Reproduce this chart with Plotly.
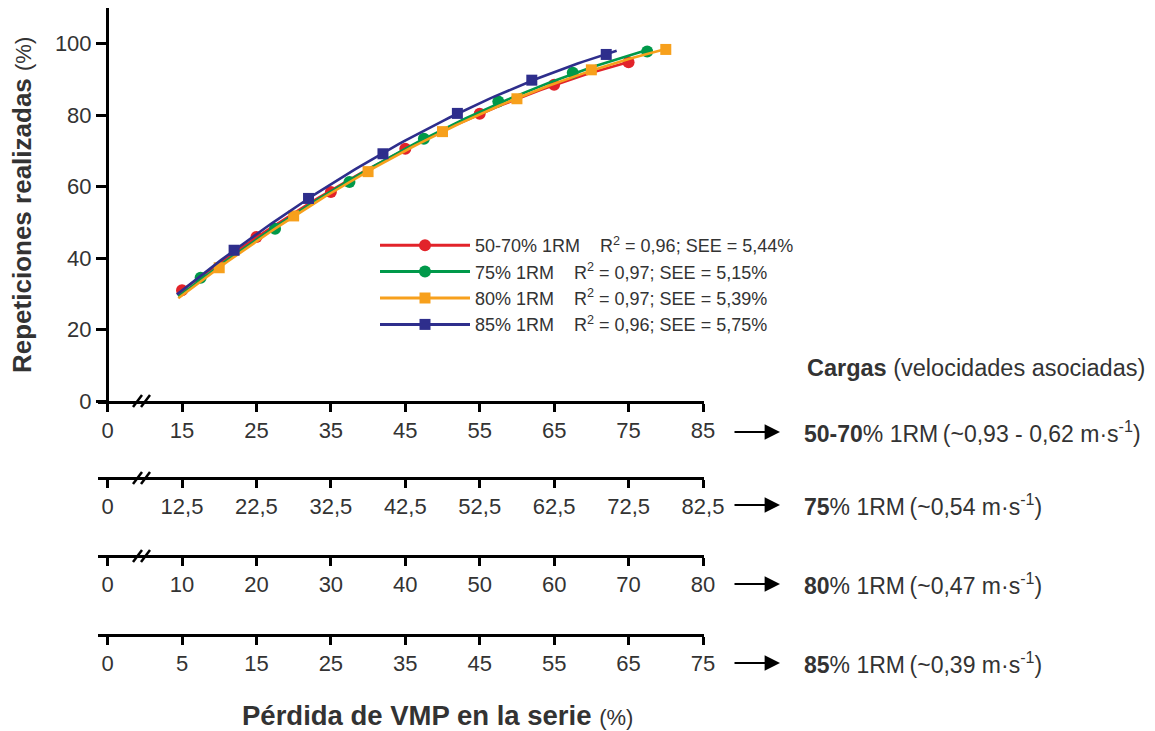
import numpy as np
import plotly.graph_objects as go

# ---------------- data ----------------
# Each series is expressed in the units of its own x axis
series_names = ["50-70% 1RM", "75% 1RM", "80% 1RM", "85% 1RM"]
legend_stats = ["R<sup>2</sup> = 0,96; SEE = 5,44%",
                "R<sup>2</sup> = 0,97; SEE = 5,15%",
                "R<sup>2</sup> = 0,97; SEE = 5,39%",
                "R<sup>2</sup> = 0,96; SEE = 5,75%"]

x_5070 = [15, 25, 35, 45, 55, 65, 75]
y_5070 = [31.0, 45.9, 58.5, 70.6, 80.4, 88.5, 94.8]

x_75 = [15, 25, 35, 45, 55, 65, 75]
y_75 = [34.5, 48.2, 61.3, 73.4, 83.8, 91.9, 97.8]

x_80 = [15, 25, 35, 45, 55, 65, 75]
y_80 = [37.3, 51.8, 64.2, 75.4, 84.6, 92.7, 98.4]

x_85 = [12, 22, 32, 42, 52, 62]
y_85 = [42.2, 56.7, 69.2, 80.5, 89.8, 97.0]

# x extent of each fitted (quadratic) curve, in its axis units
fit_span_5070 = [14.5, 75.5]
fit_span_75 = [12.0, 75.5]
fit_span_80 = [9.5, 75.0]
fit_span_85 = [4.3, 63.4]

# tick labels of the four stacked x axes
ticks_5070 = ["0", "15", "25", "35", "45", "55", "65", "75", "85"]
ticks_75 = ["0", "12,5", "22,5", "32,5", "42,5", "52,5", "62,5", "72,5", "82,5"]
ticks_80 = ["0", "10", "20", "30", "40", "50", "60", "70", "80"]
ticks_85 = ["0", "5", "15", "25", "35", "45", "55", "65", "75"]
yticks = [0, 20, 40, 60, 80, 100]

load_labels = ["<b>50-70</b>% 1RM\u2009(~0,93 - 0,62 m·s<sup>-1</sup>)",
               "<b>75</b>% 1RM\u2009(~0,54 m·s<sup>-1</sup>)",
               "<b>80</b>% 1RM\u2009(~0,47 m·s<sup>-1</sup>)",
               "<b>85</b>% 1RM\u2009(~0,39 m·s<sup>-1</sup>)"]

colors = ["#E2232A", "#00994A", "#F7A01C", "#2E2E8C"]
symbols = ["circle", "circle", "square", "square"]

# ---------------- geometry (page body has an 8 px margin) ----------------
W, H = 1147, 723
ML, MR, MT, MB = 90, 451, 0, 96
PW = W - ML - MR
PH = H - MT - MB
FONT = "Liberation Sans, Arial, sans-serif"
TXT = "#333333"


def px(xp):  # reference page pixel -> paper
    return (xp - 98) / PW


def py(yp):
    return (635 - yp) / PH


k = (703 - 182) / 70.0              # pixels per axis unit
lo_main = 15 - (182 - 98) / k
hi_main = 15 + (98 + PW - 182) / k
offsets = [0.0, 2.5, 5.0, 10.0]     # unit offset of each axis vs main axis
axis_rows_px = [401, 478, 556, 635]  # axis line rows (reference pixels)

fig = go.Figure()

xs = [x_5070, x_75, x_80, x_85]
ys = [y_5070, y_75, y_80, y_85]
spans = [fit_span_5070, fit_span_75, fit_span_80, fit_span_85]
xrefs = ["x", "x2", "x3", "x4"]

# markers first
for i in range(4):
    fig.add_trace(go.Scatter(x=xs[i], y=ys[i], mode="markers", xaxis=xrefs[i], yaxis="y",
                             marker=dict(color=colors[i], symbol=symbols[i],
                                         size=12 if symbols[i] == "circle" else 11, line=dict(width=0)),
                             showlegend=False, hoverinfo="skip"))
# fitted quadratic curves on top
for i in range(4):
    c = np.polyfit(xs[i], ys[i], 2)
    xf = np.linspace(spans[i][0], spans[i][1], 80)
    fig.add_trace(go.Scatter(x=xf, y=np.polyval(c, xf), mode="lines", xaxis=xrefs[i], yaxis="y",
                             line=dict(color=colors[i], width=2.6), showlegend=False, hoverinfo="skip"))
# legend entries
for i in range(4):
    fig.add_trace(go.Scatter(x=[None], y=[None], mode="lines+markers", xaxis="x", yaxis="y",
                             name=series_names[i] + "\u00a0\u00a0\u00a0\u00a0" + legend_stats[i],
                             line=dict(color=colors[i], width=3),
                             marker=dict(color=colors[i], symbol=symbols[i],
                                         size=12 if symbols[i] == "circle" else 11)))

tick_lists = [ticks_5070, ticks_75, ticks_80, ticks_85]
axis_common = dict(showline=True, linecolor="black", linewidth=3, ticks="outside", ticklen=8,
                   tickwidth=3, tickcolor="black", showgrid=False, zeroline=False,
                   tickfont=dict(family=FONT, size=22, color=TXT), automargin=False)

ydom0 = py(401)
for i in range(4):
    off = offsets[i]
    vals = [5 - off] + [15 - off + 10 * j for j in range(8)]
    ax = dict(axis_common, range=[lo_main - off, hi_main - off], tickmode="array",
              tickvals=vals, ticktext=tick_lists[i], domain=[0, 1])
    if i == 0:
        ax.update(anchor="y")
        fig.update_layout(xaxis=ax)
    else:
        ax.update(anchor="free", overlaying="x", position=py(axis_rows_px[i]), side="bottom")
        fig.update_layout(**{"xaxis%d" % (i + 1): ax})

fig.update_layout(yaxis=dict(axis_common, range=[0, 110], tickmode="array", tickvals=yticks,
                             ticklen=10, domain=[ydom0, 1], anchor="free", position=px(107)))

# axis break marks
shapes = []
for r in axis_rows_px[:3]:
    for xo in [133, 141]:
        shapes.append(dict(type="line", xref="paper", yref="paper",
                           x0=px(xo), y0=py(r + 6), x1=px(xo + 9), y1=py(r - 6),
                           line=dict(color="black", width=2.5)))

annotations = []
label_rows = [432, 505, 584, 663]
for i in range(4):
    annotations.append(dict(x=px(780), y=py(label_rows[i]), xref="paper", yref="paper",
                            ax=-47, ay=0, text="", showarrow=True, arrowhead=2, arrowsize=1.4,
                            arrowwidth=2.2, arrowcolor="black", standoff=0))
    annotations.append(dict(x=px(802), y=py(label_rows[i]), xref="paper", yref="paper",
                            text=load_labels[i], showarrow=False, xanchor="left", yanchor="middle",
                            font=dict(family=FONT, size=23, color=TXT)))
annotations.append(dict(x=px(1147), y=py(368), xref="paper", yref="paper",
                        text="<b>Cargas</b> (velocidades asociadas)", showarrow=False,
                        xanchor="right", yanchor="middle", font=dict(family=FONT, size=23.5, color=TXT)))
annotations.append(dict(x=px(437), y=py(715), xref="paper", yref="paper",
                        text="<b>Pérdida de VMP en la serie</b> <span style='font-size:22px'>(%)</span>",
                        showarrow=False, xanchor="center", yanchor="middle", borderpad=0,
                        font=dict(family=FONT, size=27.5, color=TXT)))
annotations.append(dict(x=px(22), y=py(205), xref="paper", yref="paper",
                        text="<b>Repeticiones realizadas</b> <span style='font-size:22px'>(%)</span>",
                        showarrow=False, textangle=-90, xanchor="center", yanchor="middle",
                        font=dict(family=FONT, size=26, color=TXT)))

fig.update_layout(
    width=W, height=H, autosize=False,
    margin=dict(l=ML, r=MR, t=MT, b=MB, autoexpand=False),
    plot_bgcolor="white", paper_bgcolor="white",
    shapes=shapes, annotations=annotations,
    legend=dict(x=px(375), y=py(227), xanchor="left", yanchor="top", itemwidth=90,
                bgcolor="rgba(0,0,0,0)", font=dict(family=FONT, size=18, color=TXT),
                tracegroupgap=0),
    font=dict(family=FONT, color=TXT),
)

fig.write_html("out.html")
